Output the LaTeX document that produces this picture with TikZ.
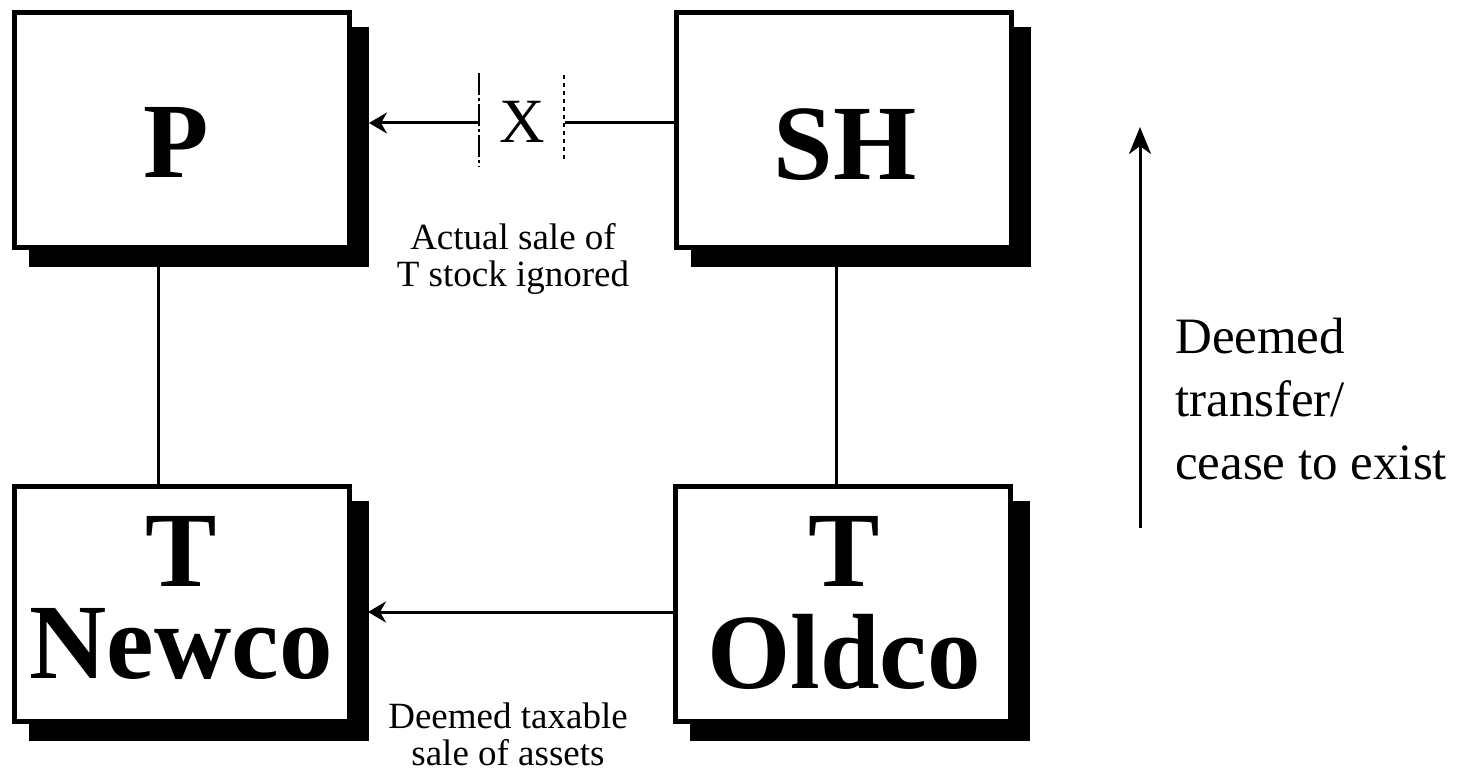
\documentclass[tikz,border=0pt]{standalone}
\usepackage{fontspec}
\setmainfont{Liberation Serif}
\usetikzlibrary{arrows.meta,backgrounds}
\begin{document}
\begin{tikzpicture}[x=1pt,y=-1pt,
  box/.style={draw,line width=5pt,fill=white,minimum width=335pt,minimum height=235pt,inner sep=0pt},
  big/.style={font=\bfseries\fontsize{107}{92}\selectfont,inner sep=0pt,align=center},
  conn/.style={line width=3pt},
  arr/.style={conn,-{Stealth[length=18pt,width=21pt,inset=6pt]}},
  uparr/.style={conn,-{Stealth[length=27pt,width=22pt,inset=8pt]}},
  lbl/.style={font=\fontsize{37}{37}\selectfont,align=center,inner sep=0pt},
  dashmark/.style={line width=1.5pt,dash pattern=on 22pt off 3pt on 3pt off 3pt},
  dotmark/.style={line width=1.5pt,dash pattern=on 4pt off 4pt},
  ]
\useasboundingbox (0,0) rectangle (1468,781);
% boxes
\node[box] (P) at (182,130) {};
\node[box] (SH) at (844,130) {};
\node[box] (Newco) at (182,604) {};
\node[box] (Oldco) at (842.5,604) {};
\begin{scope}[on background layer]
\foreach \n in {P,SH,Newco,Oldco}
  \fill ([shift={(17pt,-17pt)}]\n.south west) rectangle ([shift={(17pt,-17pt)}]\n.north east);
\end{scope}
% box texts
\node[big,anchor=base] (Ptxt) at (176,178) {P};
\node[big,anchor=base] (SHtxt) at (845,180) {SH};
\node[big,anchor=base] (Newcotxt) at (181,678) {T\\Newco};
\node[big,anchor=base,font=\bfseries\fontsize{107}{102}\selectfont] (Oldcotxt) at (844,688) {T\\Oldco};
% top connector with X
\node[font=\fontsize{63}{63}\selectfont,inner sep=0pt] (X) at (522,122) {X};
\coordinate (Xl) at (478,123);
\coordinate (Xr) at (565,123);
\draw[conn] ([yshift=7pt]SH.west) -- (Xr);
\draw[arr] (Xl) -- ([xshift=17pt,yshift=7pt]P.east);
\coordinate (Dl1) at (479,73);
\coordinate (Dl2) at (479,167);
\coordinate (Dr1) at (564,75);
\coordinate (Dr2) at (564,162);
\draw[dashmark] (Dl1) -- (Dl2);
\draw[dotmark] (Dr1) -- (Dr2);
% verticals
\draw[conn] ([xshift=-24pt]P.south) -- ([xshift=-24pt]Newco.north);
\draw[conn] ([xshift=-8pt]SH.south) -- ([xshift=-6.5pt]Oldco.north);
% bottom arrow
\draw[arr] ([yshift=-8pt]Oldco.west) -- ([xshift=16pt,yshift=-8pt]Newco.east);
% labels
\node[lbl,anchor=base] (L1) at (513,286) {Actual sale of\\T stock ignored};
\node[lbl,anchor=base] (L2) at (508,765) {Deemed taxable\\sale of assets};
% right arrow
\coordinate (A1) at (1140,528);
\coordinate (A2) at (1140,127);
\draw[uparr] (A1) -- (A2);
\node[font=\fontsize{51}{63}\selectfont,align=left,anchor=base west,inner sep=0pt] (D) at (1175,479) {Deemed\\transfer/\\cease to exist};
\end{tikzpicture}
\end{document}
